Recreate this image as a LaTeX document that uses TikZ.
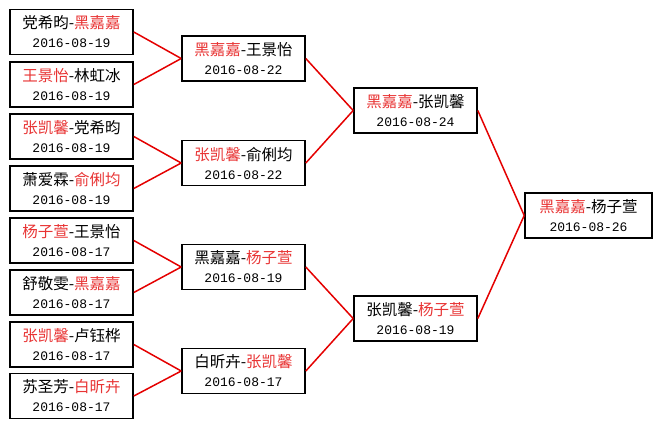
\documentclass[tikz,border=0pt]{standalone}
\usepackage{fontspec}
\setmainfont{Noto Sans CJK SC}
\newfontfamily\datefont{Liberation Mono}
\definecolor{hlred}{RGB}{232,52,52}
\definecolor{linkred}{RGB}{228,0,0}
\newcommand{\hl}[1]{\textcolor{hlred}{#1}}
\newcommand{\dt}[1]{{\datefont\fontsize{13}{19}\selectfont #1}}

\begin{document}
\begin{tikzpicture}[x=1pt, y=-1pt, every node/.style={draw, line width=1.6pt, minimum width=123pt, minimum height=45pt, inner sep=0pt, align=center, font=\fontsize{15.5}{19}\selectfont}]
			\useasboundingbox (0,0) rectangle (658,429);
			% first round
			\node (a1) at (71.5, 32) {党希昀-\hl{黑嘉嘉}\\\dt{2016-08-19}};
			\node (a2) at (71.5, 84.5) {\hl{王景怡}-林虹冰\\\dt{2016-08-19}};
			\node (a3) at (71.5, 136.5) {\hl{张凯馨}-党希昀\\\dt{2016-08-19}};
			\node (a4) at (71.5, 188.5) {萧爱霖-\hl{俞俐均}\\\dt{2016-08-19}};
			\node (a5) at (71.5, 240.5) {\hl{杨子萱}-王景怡\\\dt{2016-08-17}};
			\node (a6) at (71.5, 292.5) {舒敬雯-\hl{黑嘉嘉}\\\dt{2016-08-17}};
			\node (a7) at (71.5, 344.5) {\hl{张凯馨}-卢钰桦\\\dt{2016-08-17}};
			\node (a8) at (71.5, 396) {苏圣芳-\hl{白昕卉}\\\dt{2016-08-17}};
			
			% second round
			\node (b1) at (243.5, 58.5) {\hl{黑嘉嘉}-王景怡\\\dt{2016-08-22}};
			\node (b2) at (243.5, 163) {\hl{张凯馨}-俞俐均\\\dt{2016-08-22}};
			\node (b3) at (243.5, 267) {黑嘉嘉-\hl{杨子萱}\\\dt{2016-08-19}};
			\node (b4) at (243.5, 371) {白昕卉-\hl{张凯馨}\\\dt{2016-08-17}};
			
			% semi final and final
			\node (c1) at (415.5, 110.5) {\hl{黑嘉嘉}-张凯馨\\\dt{2016-08-24}};
			\node (c2) at (415.5, 318.5) {张凯馨-\hl{杨子萱}\\\dt{2016-08-19}};
			\node[minimum width=127pt] (d1) at (588.5, 215.5) {\hl{黑嘉嘉}-杨子萱\\\dt{2016-08-26}};
			
			\draw[linkred, line width=1.5pt] (a1.east) -- (b1.west);
			\draw[linkred, line width=1.5pt] (a2.east) -- (b1.west);
			\draw[linkred, line width=1.5pt] (a3.east) -- (b2.west);
			\draw[linkred, line width=1.5pt] (a4.east) -- (b2.west);
			\draw[linkred, line width=1.5pt] (a5.east) -- (b3.west);
			\draw[linkred, line width=1.5pt] (a6.east) -- (b3.west);
			\draw[linkred, line width=1.5pt] (a7.east) -- (b4.west);
			\draw[linkred, line width=1.5pt] (a8.east) -- (b4.west);
			\draw[linkred, line width=1.5pt] (b1.east) -- (c1.west);
			\draw[linkred, line width=1.5pt] (b2.east) -- (c1.west);
			\draw[linkred, line width=1.5pt] (b3.east) -- (c2.west);
			\draw[linkred, line width=1.5pt] (b4.east) -- (c2.west);
			\draw[linkred, line width=1.5pt] (c1.east) -- (d1.west);
			\draw[linkred, line width=1.5pt] (c2.east) -- (d1.west);
		\end{tikzpicture}
\end{document}
